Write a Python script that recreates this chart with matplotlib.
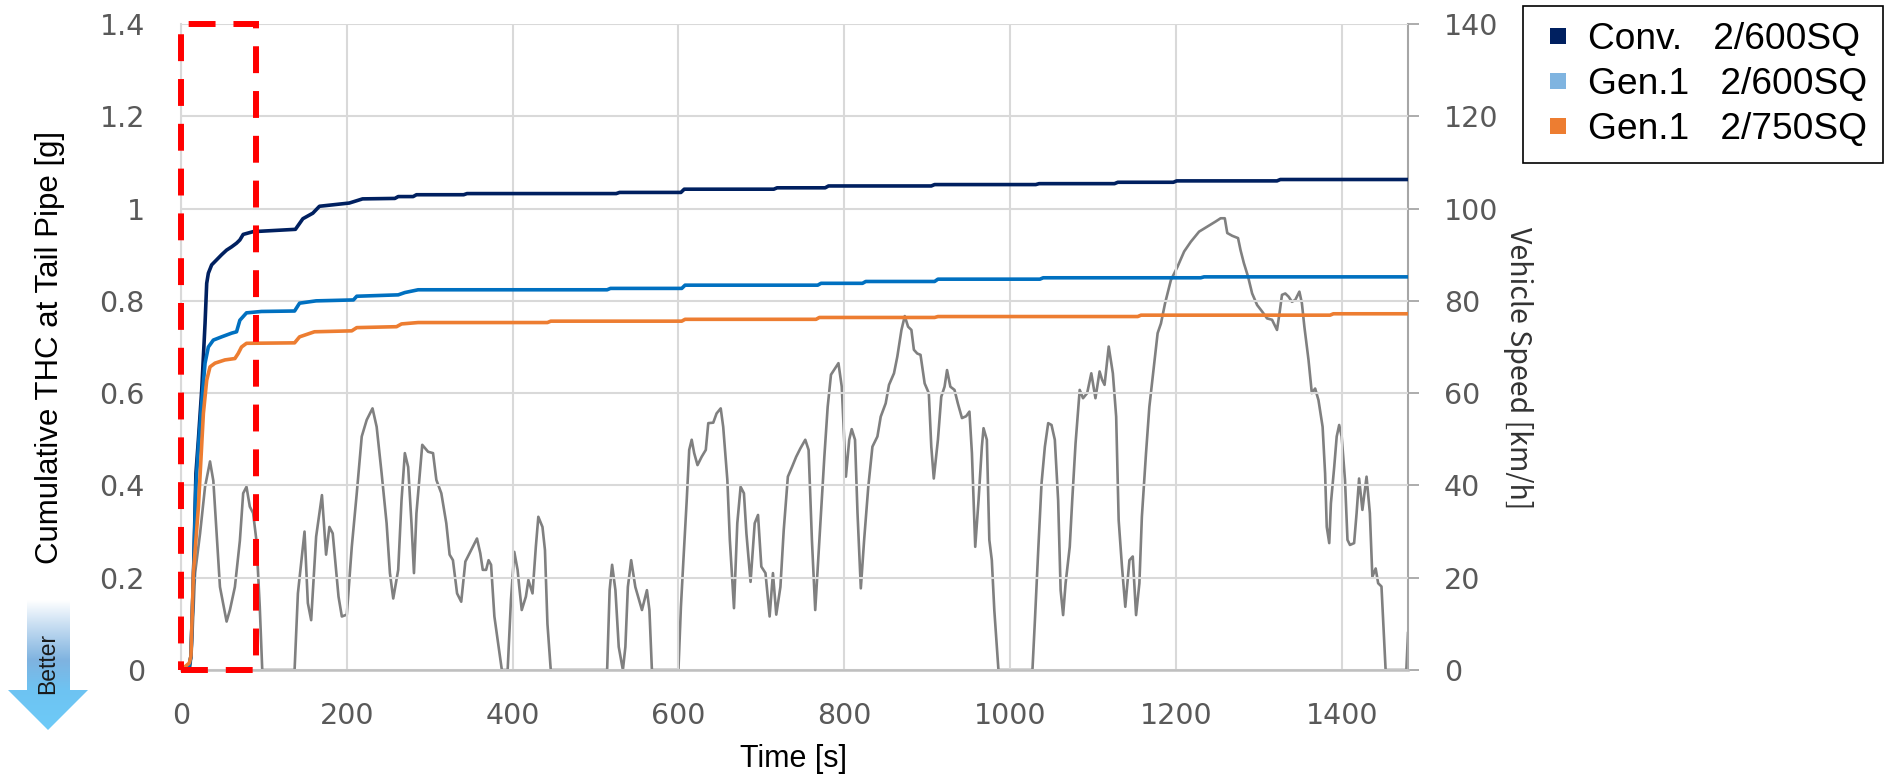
import numpy as np
import matplotlib
matplotlib.use("Agg")
import matplotlib.pyplot as plt
from matplotlib.lines import Line2D
from matplotlib.patches import Rectangle, Polygon
from matplotlib.ticker import FuncFormatter

# Cumulative THC at tail pipe [g] vs time [s]
conv_600 = [(0, 0.0), (10, 0.01), (12, 0.03), (15, 0.2), (18, 0.426), (21, 0.5), (25, 0.607),
            (29, 0.751), (31, 0.838), (33, 0.86), (37, 0.878), (43, 0.889), (49, 0.9), (55, 0.91),
            (61, 0.917), (67, 0.925), (71, 0.932), (75, 0.944), (87, 0.95), (138, 0.955),
            (147, 0.978), (159, 0.99), (167, 1.005), (203, 1.012), (219, 1.021), (258, 1.022),
            (262, 1.026), (280, 1.026), (284, 1.030), (341, 1.030), (345, 1.0325), (525, 1.0325),
            (529, 1.035), (603, 1.035), (607, 1.042), (715, 1.042), (719, 1.045), (777, 1.045),
            (781, 1.049), (905, 1.049), (909, 1.052), (1031, 1.052), (1035, 1.054), (1126, 1.054),
            (1130, 1.057), (1197, 1.057), (1201, 1.06), (1322, 1.06), (1326, 1.063), (1480, 1.063)]

gen1_600 = [(0, 0.0), (10, 0.01), (12, 0.03), (15, 0.2), (18, 0.40), (21, 0.484), (25, 0.58),
            (29, 0.665), (33, 0.70), (39, 0.715), (49, 0.722), (61, 0.73), (67, 0.733),
            (71, 0.758), (79, 0.774), (97, 0.777), (137, 0.778), (143, 0.795), (163, 0.80),
            (208, 0.802), (212, 0.81), (262, 0.813), (270, 0.818), (286, 0.824), (514, 0.824),
            (518, 0.827), (604, 0.827), (608, 0.834), (768, 0.834), (772, 0.838), (822, 0.838),
            (826, 0.842), (909, 0.842), (913, 0.847), (1036, 0.847), (1040, 0.850), (1230, 0.850),
            (1234, 0.852), (1480, 0.852)]

gen1_750 = [(0, 0.0), (10, 0.015), (12, 0.03), (15, 0.21), (21, 0.354), (27, 0.556), (31, 0.628),
            (35, 0.657), (41, 0.665), (53, 0.672), (65, 0.675), (69, 0.686), (73, 0.70),
            (79, 0.708), (137, 0.709), (143, 0.722), (161, 0.733), (206, 0.735), (212, 0.742),
            (260, 0.744), (266, 0.75), (286, 0.753), (442, 0.753), (446, 0.756), (604, 0.756),
            (608, 0.760), (766, 0.760), (770, 0.764), (909, 0.764), (913, 0.766), (1154, 0.766),
            (1158, 0.769), (1386, 0.769), (1390, 0.772), (1480, 0.772)]

# Vehicle speed [km/h] vs time [s]
speed = [(0, 0), (11, 0), (13, 4.3), (17, 21), (23, 29.6), (29, 39.7), (35, 45.2), (39, 41),
         (43, 29.6), (47, 18), (55, 10.5), (59, 13), (65, 18), (71, 28), (75, 38.3), (79, 39.7),
         (83, 35.4), (87, 34), (91, 28), (95, 13.7), (98, 0), (137, 0), (141, 16.6), (149, 30),
         (153, 14.5), (157, 10.8), (163, 28.9), (170, 37.9), (175, 25), (179, 31), (183, 29.6),
         (190, 15.9), (194, 11.6), (200, 12), (206, 26.7), (212, 38.3), (218, 50.6), (224, 54.2),
         (231, 56.7), (236, 52.7), (242, 42.6), (248, 31.8), (252, 21), (256, 15.5), (262, 21.7),
         (266, 36.8), (270, 47), (274, 44), (278, 31.8), (281, 21), (284, 34), (288, 42.6),
         (291, 48.8), (298, 47.3), (304, 47), (308, 41.2), (314, 38.3), (320, 31.8), (324, 25),
         (328, 23.8), (333, 16.6), (338, 14.8), (343, 23.5), (348, 25.3), (352, 26.7),
         (357, 28.5), (361, 25.3), (364, 21.7), (368, 21.7), (371, 23.8), (374, 22.8),
         (378, 11.6), (382, 6.5), (387, 0), (394, 0), (398, 15.2), (402, 25.6), (406, 21.7),
         (408, 18), (411, 13), (416, 15.9), (419, 19.5), (424, 16.6), (428, 26.7), (431, 33.2),
         (436, 31), (439, 26), (442, 10), (446, 0), (514, 0), (517, 17.3), (520, 22.8),
         (524, 17.3), (528, 5), (533, 0), (536, 5), (539, 18), (543, 23.8), (548, 18),
         (552, 15.5), (556, 13), (559, 15.2), (562, 17.3), (565, 13), (568, 0), (600, 0),
         (603, 13.7), (606, 23.8), (610, 36.8), (613, 47.7), (616, 49.9), (619, 47), (623, 44.4),
         (628, 46.2), (633, 47.7), (636, 53.5), (642, 53.6), (646, 55.6), (651, 56.7),
         (654, 52.7), (659, 41.2), (662, 28.2), (667, 13.4), (671, 31.8), (675, 39.7),
         (679, 38.3), (682, 29.6), (687, 19.1), (692, 31.8), (696, 33.6), (700, 22.4), (705, 21),
         (710, 11.6), (714, 21), (718, 12), (723, 18), (727, 30.3), (732, 41.9), (737, 44),
         (742, 46.2), (747, 48), (753, 49.9), (757, 47.7), (761, 28.2), (765, 13), (770, 28.2),
         (776, 46.2), (780, 57), (784, 64), (789, 65.4), (793, 66.5), (797, 61.4), (800, 49.9),
         (802, 41.9), (806, 49.9), (809, 52.2), (813, 49.9), (816, 34), (820, 17.7), (824, 28.2),
         (829, 39.7), (834, 48.4), (840, 50.6), (844, 54.9), (850, 57.8), (854, 61.8),
         (860, 64.3), (864, 67.9), (869, 73.7), (873, 76.7), (877, 74.4), (881, 73.7),
         (884, 69.4), (888, 68.6), (892, 68.3), (897, 62.1), (902, 60), (905, 48.4), (908, 41.5),
         (913, 49.9), (917, 59.2), (921, 61.4), (924, 65), (928, 61.4), (933, 60.7), (937, 57.8),
         (942, 54.6), (947, 55), (951, 56), (954, 47), (958, 26.7), (962, 36.8), (966, 48.4),
         (968, 52.4), (972, 49.9), (975, 28.2), (978, 23.8), (981, 13), (983, 7.9), (986, 0),
         (1027, 0), (1030, 10.8), (1034, 26), (1038, 40.5), (1042, 48.4), (1046, 53.5),
         (1050, 53.1), (1054, 49.9), (1058, 36.8), (1061, 17.3), (1064, 11.9), (1067, 18.8),
         (1072, 26.7), (1075, 36.8), (1079, 49.1), (1084, 60.7), (1088, 58.9), (1093, 60),
         (1098, 64.3), (1103, 58.9), (1108, 64.7), (1111, 62.9), (1114, 61.8), (1119, 70.1),
         (1124, 64.3), (1128, 54.9), (1131, 32.5), (1135, 22.4), (1139, 13.7), (1144, 23.8),
         (1148, 24.6), (1152, 11.9), (1156, 18.8), (1159, 33.2), (1164, 47), (1168, 57),
         (1173, 65), (1178, 73), (1182, 75.1), (1187, 79.5), (1194, 84.5), (1202, 87.4),
         (1210, 90.7), (1218, 92.8), (1228, 95), (1238, 96.1), (1248, 97.2), (1254, 97.9),
         (1259, 97.9), (1262, 94.7), (1268, 94.1), (1275, 93.6), (1278, 91), (1282, 88.2),
         (1287, 85.3), (1292, 81.6), (1298, 79.1), (1304, 77.7), (1310, 76.2), (1316, 75.9),
         (1322, 73.7), (1325, 77.3), (1328, 81.3), (1332, 81.6), (1336, 80.9), (1340, 79.8),
         (1344, 80.2), (1349, 82), (1352, 79.5), (1355, 74.4), (1360, 67.2), (1364, 60),
         (1368, 61), (1372, 58.5), (1377, 52.7), (1380, 42.6), (1382, 31), (1385, 27.5),
         (1387, 36.1), (1391, 44), (1394, 50.6), (1397, 53.1), (1400, 50.6), (1404, 41.2),
         (1407, 28.2), (1410, 27.1), (1415, 27.5), (1418, 34), (1421, 41.5), (1425, 34.7),
         (1430, 41.9), (1434, 34), (1437, 20.2), (1441, 22), (1444, 18.8), (1448, 18.1),
         (1453, 0), (1478, 0), (1480, 8)]

series_labels = ["Conv.   2/600SQ", "Gen.1   2/600SQ", "Gen.1   2/750SQ"]
line_colors = ["#002060", "#0070C0", "#ED7D31"]
legend_colors = ["#002060", "#7FB4E0", "#ED7D31"]
highlight_end = 90  # end of the cold-start window [s]

W, H = 1893, 778
fig = plt.figure(figsize=(W / 100, H / 100), dpi=100)

# Speed on the secondary axis, drawn underneath
ax = fig.add_axes([181 / W, 1 - 670 / H, (1408 - 181) / W, 646 / H])
ax2 = ax.twinx()
ax.set_zorder(ax2.get_zorder() + 1)
ax.patch.set_visible(False)

t_s, v_s = zip(*speed)
ax2.plot(t_s, v_s, color="#808080", lw=1.9)

for data, color in zip([conv_600, gen1_600, gen1_750], line_colors):
    t, v = zip(*data)
    ax.plot(t, v, color=color, lw=2.6, solid_joinstyle="round")

ax.set_xlim(0, 1480)
ax.set_ylim(0, 1.4)
ax2.set_ylim(0, 140)
ax.set_xticks(np.arange(0, 1401, 200))
ax.set_yticks(np.arange(0, 1.41, 0.2))
ax2.set_yticks(np.arange(0, 141, 20))
ax.yaxis.set_major_formatter(FuncFormatter(lambda v, p: f"{v:g}"))

ax.grid(True, color="#D9D9D9", lw=1.5)
ax.set_axisbelow(True)

tick_col = "#595959"
ax.tick_params(axis="x", length=0, pad=23, labelsize=20.5, labelcolor=tick_col)
ax.tick_params(axis="y", length=0, pad=26, labelsize=20.5, labelcolor=tick_col)
ax2.tick_params(axis="y", length=8, width=1.3, color="#A6A6A6", pad=18,
                labelsize=20.5, labelcolor=tick_col)

for s in ["top", "right"]:
    ax.spines[s].set_visible(False)
ax.spines["left"].set_color("#D9D9D9")
ax.spines["left"].set_linewidth(1.5)
ax.spines["bottom"].set_color("#BFBFBF")
ax.spines["bottom"].set_linewidth(1.8)
for s in ["top", "left", "bottom"]:
    ax2.spines[s].set_visible(False)
ax2.spines["right"].set_color("#A6A6A6")
ax2.spines["right"].set_linewidth(1.5)

# red dashed box around the cold start
box = Rectangle((0, 0), highlight_end, 1.4, fill=False, ec="#FF0000", lw=4.3,
                ls=(0, (4.5, 3)), clip_on=False, zorder=10)
ax.add_patch(box)

# axis titles
fig.text(50 / W, 1 - 347 / H, "Cumulative THC at Tail Pipe [g]", rotation=90,
         ha="center", va="center", fontsize=22.5, family="Liberation Sans", color="black")
fig.text(794 / W, 1 - 759 / H, "Time [s]", ha="center", va="center",
         fontsize=22, family="Liberation Sans", color="black")
fig.text(1518 / W, 1 - 368 / H, "Vehicle Speed [km/h]", rotation=-90,
         ha="center", va="center", fontsize=20.5, family="Noto Sans CJK JP", color="#333333")

# legend
handles = [Line2D([], [], ls="none", marker="s", markersize=12.2, markeredgewidth=0, color=c)
           for c in legend_colors]
leg = fig.legend(handles, series_labels, loc="upper left", bbox_to_anchor=(1523 / W, 1 - 6 / H),
                 frameon=True, fancybox=False, edgecolor="black", framealpha=1,
                 prop={"family": "Liberation Sans", "size": 26.7},
                 handlelength=1.05, handletextpad=0.28, borderpad=0.42, labelspacing=0.28,
                 borderaxespad=0)
leg.get_frame().set_linewidth(1.2)

# "Better" arrow with a vertical gradient
arr_ax = fig.add_axes([0, 0, 100 / W, 200 / H])
arr_ax.set_xlim(0, 100)
arr_ax.set_ylim(778, 578)
arr_ax.axis("off")
stops_y = [600, 625, 660, 690, 730]
stops_c = np.array([[255, 255, 255], [200, 222, 242], [127, 179, 224],
                    [110, 195, 242], [109, 203, 248]]) / 255.0
ys = np.linspace(600, 730, 200)
grad = np.stack([np.interp(ys, stops_y, stops_c[:, k]) for k in range(3)], axis=1)
grad = grad[:, None, :]
im = arr_ax.imshow(grad, extent=(0, 100, 730, 600), aspect="auto", origin="upper")
arrow = Polygon([(27, 600), (70, 600), (70, 690), (88, 690), (48, 730), (8, 690), (27, 690)],
                closed=True, fc="none", ec="none", transform=arr_ax.transData)
arr_ax.add_patch(arrow)
im.set_clip_path(arrow)
fig.text(48 / W, 1 - 663 / H, "Better", rotation=90, ha="center", va="center",
         fontsize=16.5, family="Liberation Sans", color="#1a1a1a")

fig.savefig("out.png", dpi=100)
